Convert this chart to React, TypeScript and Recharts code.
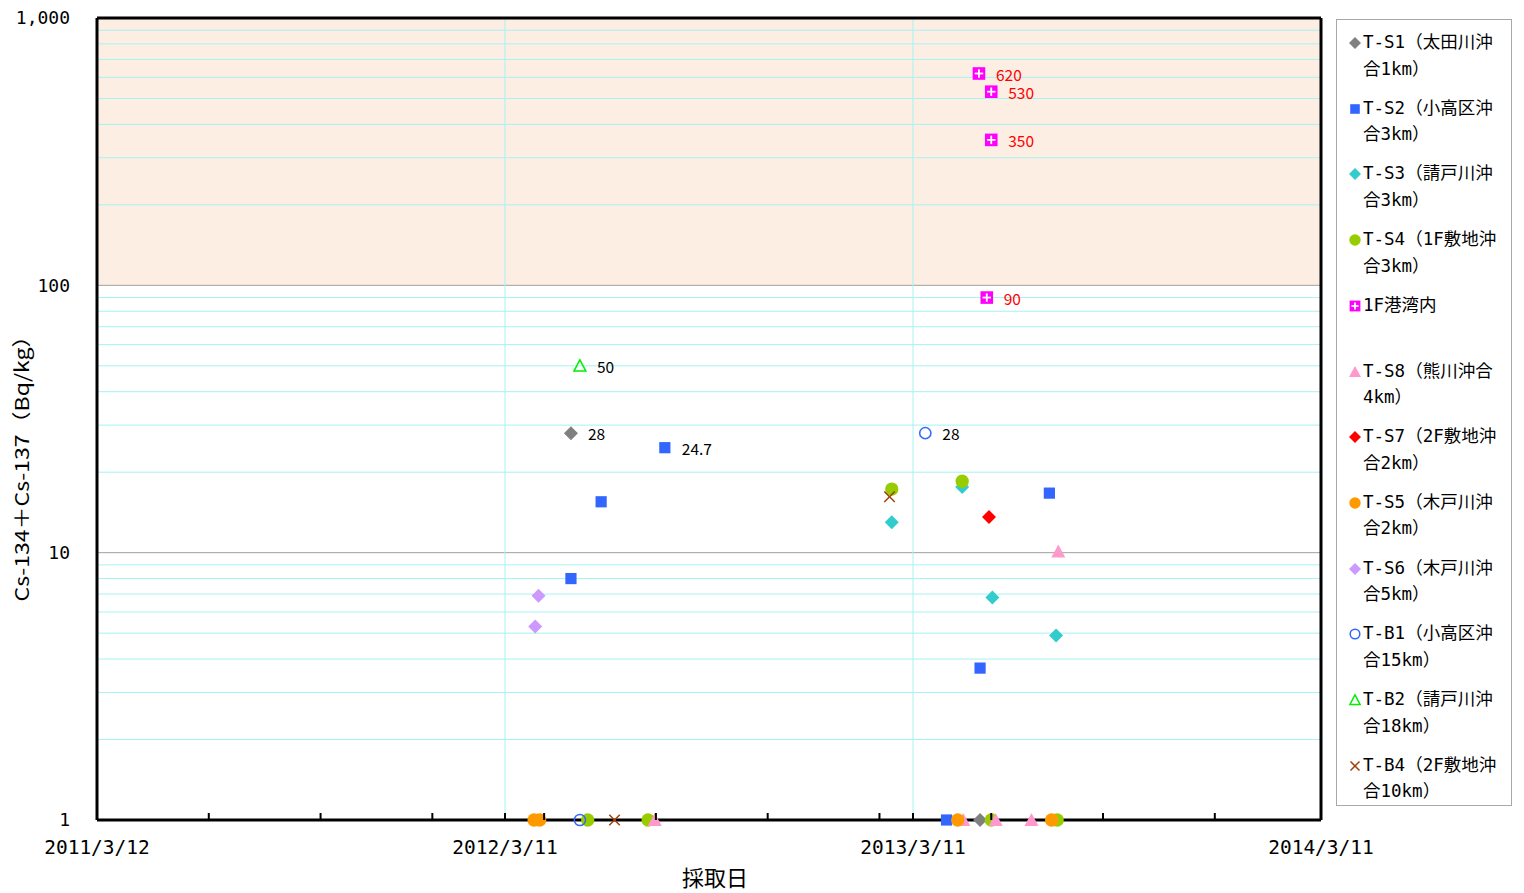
import React from "react";
import { ScatterChart, Scatter, XAxis, YAxis, ReferenceArea, ReferenceLine } from "recharts";

type Pt = [string, number, string?];

// 採取日, Cs-134 + Cs-137 (Bq/kg), data label
const ts1: Pt[] = [["2012-05-09", 28, "28"], ["2013-05-10", 1]];
const ts2: Pt[] = [
  ["2012-05-09", 8.0],
  ["2012-06-05", 15.5],
  ["2012-08-01", 24.7, "24.7"],
  ["2013-04-10", 1],
  ["2013-05-10", 3.7],
  ["2013-07-11", 16.7],
];
const ts3: Pt[] = [["2013-02-20", 13.0], ["2013-04-24", 17.6], ["2013-05-21", 6.8], ["2013-07-17", 4.9]];
const ts4: Pt[] = [
  ["2012-05-24", 1],
  ["2012-07-17", 1],
  ["2013-02-20", 17.3],
  ["2013-04-24", 18.5],
  ["2013-05-20", 1],
  ["2013-07-18", 1],
];
const port1F: Pt[] = [["2013-05-09", 620, "620"], ["2013-05-20", 530, "530"], ["2013-05-20", 350, "350"], ["2013-05-16", 90, "90"]];
const ts8: Pt[] = [["2012-07-23", 1], ["2013-04-25", 1], ["2013-05-24", 1], ["2013-06-25", 1], ["2013-07-19", 10.1]];
const ts7: Pt[] = [["2013-05-18", 13.6]];
const ts5: Pt[] = [["2012-04-06", 1], ["2012-04-11", 1], ["2013-04-20", 1], ["2013-07-13", 1]];
const ts6: Pt[] = [["2012-04-07", 5.3], ["2012-04-10", 6.9]];
const tb1: Pt[] = [["2012-05-17", 1], ["2013-03-22", 28, "28"]];
const tb2: Pt[] = [["2012-05-17", 50, "50"]];
const tb4: Pt[] = [["2012-06-17", 1], ["2013-02-18", 16.2]];

const xTicks = [0, 100, 200, 300, 365, 400, 500, 600, 700, 730, 800, 900, 1000, 1095];
const xTickLabels: Record<number, string> = { 0: "2011/3/12", 365: "2012/3/11", 730: "2013/3/11", 1095: "2014/3/11" };
const yTicks = [1, 10, 100, 1000];
const minorGrid = [2, 3, 4, 5, 6, 7, 8, 9, 20, 30, 40, 50, 60, 70, 80, 90, 200, 300, 400, 500, 600, 700, 800, 900];

const START = Date.UTC(2011, 2, 12);
const toDay = (s: string) => {
  const [y, m, d] = s.split("-").map(Number);
  return Math.round((Date.UTC(y, m - 1, d) - START) / 86400000);
};
const rows = (pts: Pt[]) => pts.map(([d, v, l]) => ({ x: toDay(d), y: v, label: l }));

type Kind = "diamond" | "square" | "circle" | "plus" | "triangle" | "ring" | "tri-open" | "cross";

const series: { name: string; lines: string[]; data: Pt[]; kind: Kind; color: string; labelColor?: string }[] = [
  { name: "T-S1", lines: ["T-S1（太田川沖", "合1km）"], data: ts1, kind: "diamond", color: "#808080" },
  { name: "T-S2", lines: ["T-S2（小高区沖", "合3km）"], data: ts2, kind: "square", color: "#3366ff" },
  { name: "T-S3", lines: ["T-S3（請戸川沖", "合3km）"], data: ts3, kind: "diamond", color: "#33cccc" },
  { name: "T-S4", lines: ["T-S4（1F敷地沖", "合3km）"], data: ts4, kind: "circle", color: "#99cc00" },
  { name: "1F", lines: ["1F港湾内", ""], data: port1F, kind: "plus", color: "#ff00ff", labelColor: "#ff0000" },
  { name: "T-S8", lines: ["T-S8（熊川沖合", "4km）"], data: ts8, kind: "triangle", color: "#ff99cc" },
  { name: "T-S7", lines: ["T-S7（2F敷地沖", "合2km）"], data: ts7, kind: "diamond", color: "#ff0000" },
  { name: "T-S5", lines: ["T-S5（木戸川沖", "合2km）"], data: ts5, kind: "circle", color: "#ff9900" },
  { name: "T-S6", lines: ["T-S6（木戸川沖", "合5km）"], data: ts6, kind: "diamond", color: "#cc99ff" },
  { name: "T-B1", lines: ["T-B1（小高区沖", "合15km）"], data: tb1, kind: "ring", color: "#3366ff" },
  { name: "T-B2", lines: ["T-B2（請戸川沖", "合18km）"], data: tb2, kind: "tri-open", color: "#00ee00" },
  { name: "T-B4", lines: ["T-B4（2F敷地沖", "合10km）"], data: tb4, kind: "cross", color: "#a0400a" },
];

const marker = (kind: Kind, color: string, cx: number, cy: number, r: number) => {
  switch (kind) {
    case "diamond":
      return <polygon points={`${cx},${cy - r} ${cx + r},${cy} ${cx},${cy + r} ${cx - r},${cy}`} fill={color} />;
    case "square":
      return <rect x={cx - r * 0.8} y={cy - r * 0.8} width={r * 1.6} height={r * 1.6} fill={color} />;
    case "circle":
      return <circle cx={cx} cy={cy} r={r * 0.95} fill={color} />;
    case "plus":
      return (
        <g>
          <rect x={cx - r * 0.9} y={cy - r * 0.9} width={r * 1.8} height={r * 1.8} fill={color} />
          <line x1={cx - r * 0.6} x2={cx + r * 0.6} y1={cy} y2={cy} stroke="#fff" strokeWidth={1.8} />
          <line x1={cx} x2={cx} y1={cy - r * 0.6} y2={cy + r * 0.6} stroke="#fff" strokeWidth={1.8} />
        </g>
      );
    case "triangle":
      return <polygon points={`${cx},${cy - r} ${cx + r},${cy + r * 0.85} ${cx - r},${cy + r * 0.85}`} fill={color} />;
    case "ring":
      return <circle cx={cx} cy={cy} r={r * 0.8} fill="none" stroke={color} strokeWidth={1.5} />;
    case "tri-open":
      return (
        <polygon
          points={`${cx},${cy - r * 0.85} ${cx + r * 0.85},${cy + r * 0.75} ${cx - r * 0.85},${cy + r * 0.75}`}
          fill="none"
          stroke={color}
          strokeWidth={1.5}
        />
      );
    case "cross":
      return (
        <g stroke={color} strokeWidth={1.5}>
          <line x1={cx - r * 0.75} x2={cx + r * 0.75} y1={cy - r * 0.75} y2={cy + r * 0.75} />
          <line x1={cx - r * 0.75} x2={cx + r * 0.75} y1={cy + r * 0.75} y2={cy - r * 0.75} />
        </g>
      );
  }
};

const shapeFor = (kind: Kind, color: string, labelColor = "#000") => (p: any) => {
  const { cx, cy, payload } = p;
  return (
    <g>
      {marker(kind, color, cx, cy, 7)}
      {payload?.label && (
        <text x={cx + 17} y={cy} dominantBaseline="central" fontSize={15.5} fill={labelColor} fontFamily="'Noto Sans CJK JP', sans-serif">
          {payload.label}
        </text>
      )}
    </g>
  );
};

const XTick = (props: any) => {
  const { x, y, payload } = props;
  const lbl = xTickLabels[payload.value];
  return (
    <g>
      <line x1={x} x2={x} y1={y} y2={y - 7} stroke="#000" strokeWidth={2} />
      {lbl && (
        <text x={x} y={y + 27} textAnchor="middle" dominantBaseline="central" fontSize={19.5} fill="#000" fontFamily="'DejaVu Sans Mono', monospace">
          {lbl}
        </text>
      )}
    </g>
  );
};

const font = "'Noto Sans CJK JP', sans-serif";

export default function App() {
  return (
    <div style={{ position: "relative", width: 1524, height: 893 }}>
      <style>{"body{margin:0}"}</style>
      <ScatterChart width={1524} height={893} margin={{ top: 18, right: 203, bottom: 0, left: 0 }}>
        <ReferenceArea y1={100} y2={1000} fill="#fdeee3" fillOpacity={1} stroke="none" />
        {minorGrid.map((v) => (
          <ReferenceLine key={v} y={v} stroke="#a6f2f2" strokeWidth={1} />
        ))}
        <ReferenceLine y={10} stroke="#a0a0a0" strokeWidth={1} />
        <ReferenceLine y={100} stroke="#a0a0a0" strokeWidth={1} />
        <ReferenceLine x={365} stroke="#a6f2f2" strokeWidth={1} />
        <ReferenceLine x={730} stroke="#a6f2f2" strokeWidth={1} />
        <ReferenceLine y={1000} stroke="#000" strokeWidth={3} />
        <ReferenceLine x={1095} stroke="#000" strokeWidth={3} />
        <XAxis
          type="number"
          dataKey="x"
          domain={[0, 1095]}
          ticks={xTicks}
          interval={0}
          height={73}
          tickSize={0}
          tickMargin={0}
          tickLine={false}
          tick={<XTick />}
          axisLine={{ stroke: "#000", strokeWidth: 3 }}
          label={() => (
            <text x={715} y={876} textAnchor="middle" dominantBaseline="central" fontSize={22} fill="#000" fontFamily={font}>
              採取日
            </text>
          )}
        />
        <YAxis
          type="number"
          dataKey="y"
          scale="log"
          domain={[1, 1000]}
          ticks={yTicks}
          interval={0}
          width={97}
          tickLine={false}
          tickSize={0}
          tickMargin={27}
          tickFormatter={(v: number) => v.toLocaleString("en-US")}
          tick={{ fontSize: 18, fill: "#000", fontFamily: "'DejaVu Sans Mono', monospace" }}
          axisLine={{ stroke: "#000", strokeWidth: 3 }}
          label={() => (
            <text
              x={20}
              y={463}
              transform="rotate(-90 20 463)"
              textAnchor="middle"
              dominantBaseline="central"
              fontSize={19}
              fill="#000"
              fontFamily={font}
              textLength={277}
              lengthAdjust="spacingAndGlyphs"
            >
              Cs-134＋Cs-137（Bq/kg）
            </text>
          )}
        />
        {series.map((s) => (
          <Scatter
            key={s.name}
            name={s.name}
            data={rows(s.data)}
            isAnimationActive={false}
            shape={shapeFor(s.kind, s.color, s.labelColor)}
          />
        ))}
      </ScatterChart>
      <div
        style={{
          position: "absolute",
          left: 1336,
          top: 19,
          width: 174,
          height: 785,
          border: "1px solid #a8a8a8",
          background: "#fff",
          fontFamily: "'DejaVu Sans Mono', 'Noto Sans CJK JP', monospace",
          fontSize: 17.5,
          color: "#000",
        }}
      >
        {series.map((s, i) => (
          <div key={s.name} style={{ position: "absolute", left: 0, top: 9 + i * 65.7, width: 174 }}>
            <svg width={14} height={14} style={{ position: "absolute", left: 11, top: 7 }}>
              {marker(s.kind, s.color, 7, 7, 6)}
            </svg>
            <div style={{ position: "absolute", left: 26, top: 0, lineHeight: "26.5px", whiteSpace: "nowrap" }}>
              {s.lines[0]}
              <br />
              {s.lines[1]}
            </div>
          </div>
        ))}
      </div>
    </div>
  );
}
